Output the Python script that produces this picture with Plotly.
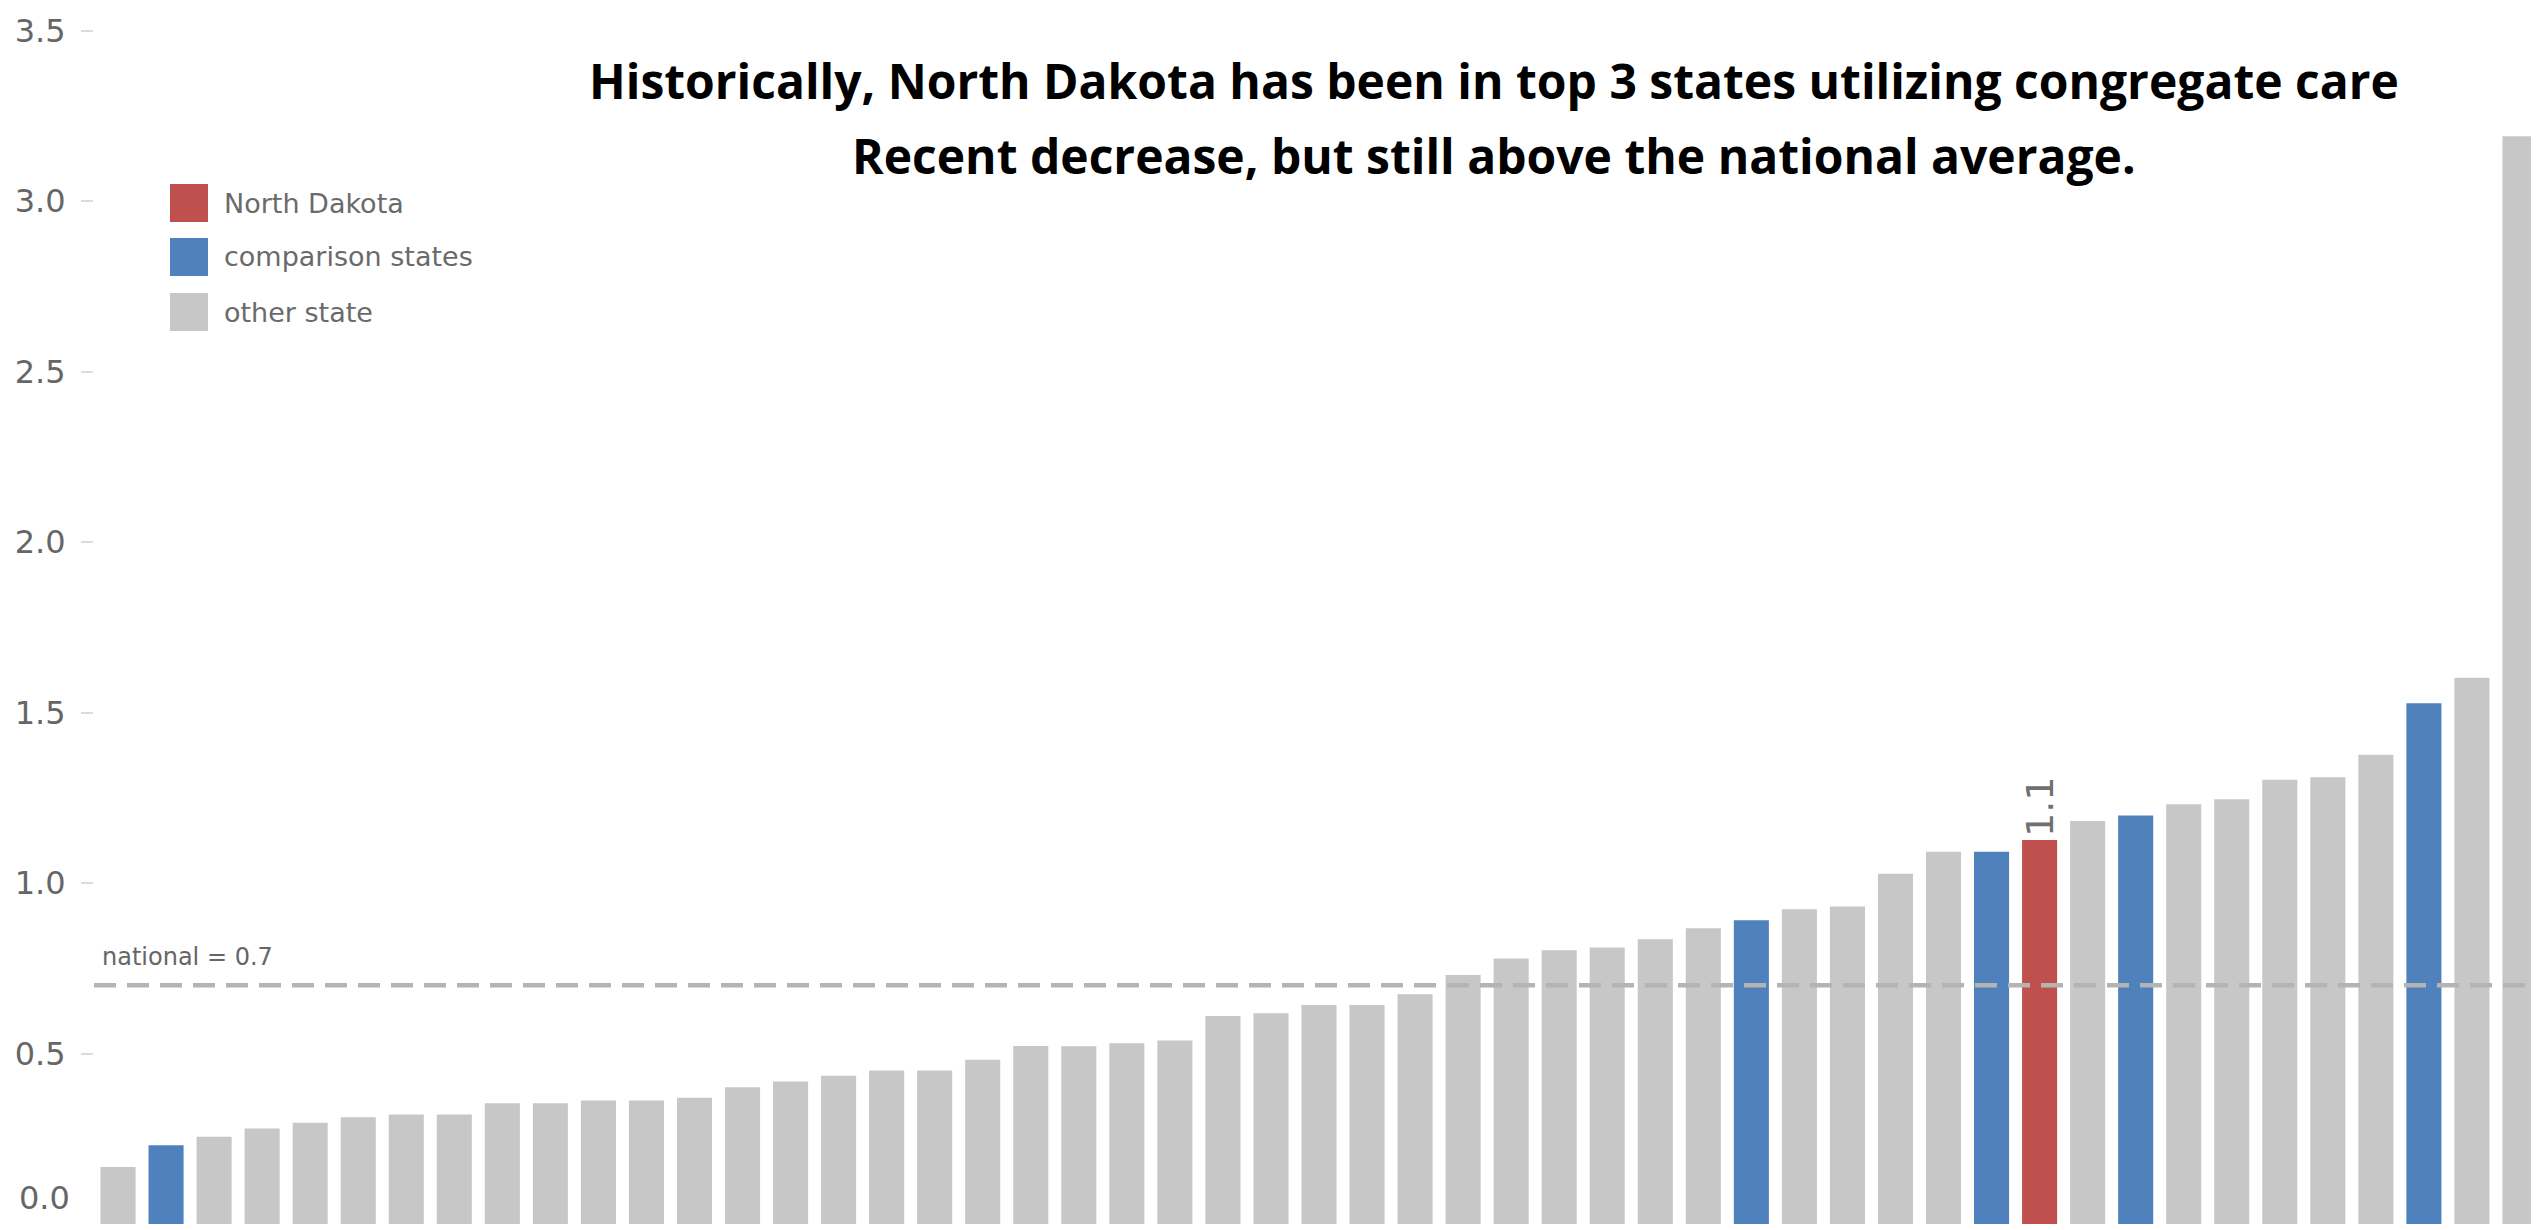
import plotly.graph_objects as go

# ---- data ----
categories = [f"S{i+1}" for i in range(51)]
values = [0.167, 0.231, 0.256, 0.280, 0.297, 0.313, 0.321, 0.321, 0.354, 0.354,
          0.362, 0.362, 0.370, 0.401, 0.418, 0.435, 0.450, 0.450, 0.482, 0.522,
          0.521, 0.530, 0.538, 0.610, 0.618, 0.642, 0.642, 0.674, 0.730, 0.779,
          0.803, 0.811, 0.835, 0.867, 0.891, 0.923, 0.931, 1.027, 1.092, 1.092,
          1.126, 1.182, 1.198, 1.231, 1.246, 1.303, 1.310, 1.376, 1.527, 1.602,
          3.190]
groups = ["other state"] * 51
for i in (1, 34, 39, 42, 48):
    groups[i] = "comparison states"
groups[40] = "North Dakota"

national = 0.7
tick_vals = [0.5, 1.0, 1.5, 2.0, 2.5, 3.0, 3.5]
tick_text = ["0.5", "1.0", "1.5", "2.0", "2.5", "3.0", "3.5"]
legend_items = ["North Dakota", "comparison states", "other state"]
group_colors = {"North Dakota": "#c0504d", "comparison states": "#4f81bd", "other state": "#c7c7c7"}
title_lines = ["Historically, North Dakota has been in top 3 states utilizing congregate care",
               "Recent decrease, but still above the national average."]

W, H = 2539, 1230
ML, MR = 86, 3
PW = W - ML - MR

def px_x(px):
    return (px - ML) / PW

def px_y(py):
    return 1 - py / H

colors = [group_colors[g] for g in groups]
texts = [f"{v:.1f}" if g == "North Dakota" else "" for v, g in zip(values, groups)]

fig = go.Figure()
fig.add_trace(go.Bar(
    x=categories, y=values, marker=dict(color=colors, line=dict(width=0)),
    text=texts, textposition="outside", textangle=-90, constraintext="none",
    textfont=dict(family="DejaVu Sans", size=38, color="#707070"),
    cliponaxis=False, showlegend=False, hoverinfo="x+y",
))

fig.add_shape(type="line", xref="paper", x0=0, x1=1, yref="y", y0=national, y1=national,
              line=dict(color="#b4b4b4", width=4.5, dash="22px,11px"), layer="above")

annotations = [
    dict(text=f"national = {national}", xref="paper", x=0, xanchor="left", xshift=6,
         yref="y", y=national, yanchor="bottom", yshift=12, showarrow=False,
         font=dict(family="DejaVu Sans", size=24, color="#666666")),
    dict(text="0.0", xref="paper", x=0, xanchor="right", xshift=-22, yref="y", y=0.075,
         yanchor="middle", showarrow=False, font=dict(family="DejaVu Sans", size=32, color="#666666")),
]

title_y = [72, 147]
for line, ty in zip(title_lines, title_y):
    annotations.append(dict(text=f"<b>{line}</b>", xref="paper", x=px_x(1486), xanchor="center",
                            yref="paper", y=px_y(ty), yanchor="middle", showarrow=False,
                            font=dict(family="Open Sans", size=48, color="#000000")))

leg_y = [195, 249, 304]
for name, ly in zip(legend_items, leg_y):
    fig.add_shape(type="rect", xref="paper", yref="paper", x0=px_x(162), x1=px_x(200),
                  y0=px_y(ly + 19), y1=px_y(ly - 19), fillcolor=group_colors[name],
                  line=dict(width=0))
    annotations.append(dict(text=name, xref="paper", x=px_x(214), xanchor="left",
                            yref="paper", y=px_y(ly), yanchor="middle", showarrow=False,
                            font=dict(family="DejaVu Sans", size=27, color="#6a6a6a")))

fig.update_layout(
    width=W, height=H, margin=dict(l=ML, r=MR, t=0, b=0, pad=0),
    plot_bgcolor="white", paper_bgcolor="white", bargap=0.27,
    annotations=annotations,
    xaxis=dict(range=[-0.5, 50.5], showticklabels=False, showgrid=False, zeroline=False,
               showline=False, ticks=""),
    yaxis=dict(range=[-0.041, 3.566], tickvals=tick_vals, ticktext=tick_text, ticks="outside",
               ticklen=12, tickwidth=2, tickcolor="#dcdcdc", showgrid=False, zeroline=False,
               showline=False, ticklabelstandoff=9,
               tickfont=dict(family="DejaVu Sans", size=32, color="#666666")),
)

fig.write_html("out.html")
